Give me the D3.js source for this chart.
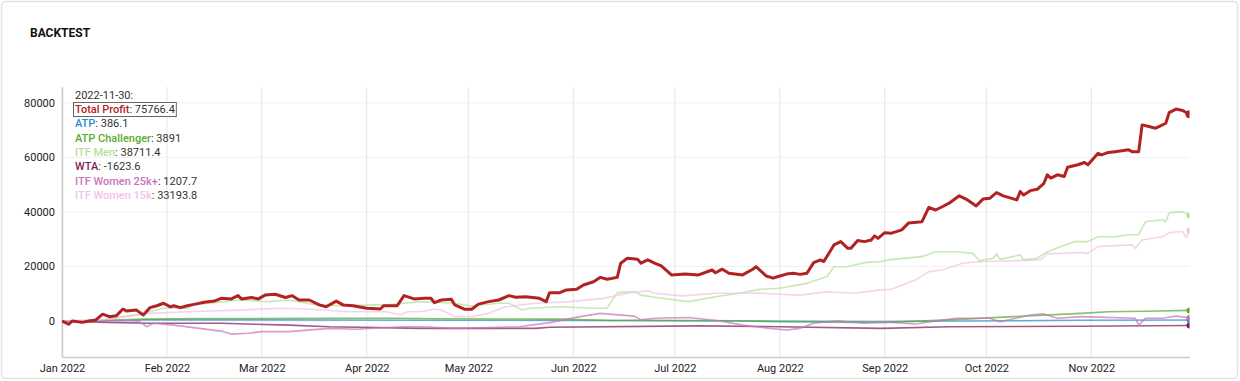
<!DOCTYPE html>
<html><head><meta charset="utf-8">
<script src="https://cdn.jsdelivr.net/npm/d3@7"></script>
<style>
html,body{margin:0;padding:0;background:#fff;}
svg{display:block;font-family:Roboto, "Noto Sans", sans-serif;}
</style></head><body>
<svg id="chart" width="1240" height="381"></svg>
<script>
// ---------- DATA (day offset from 2022-01-01, value) ----------
const chartTitle = "BACKTEST";
const legendDate = "2022-11-30:";
const seriesNames = ["Total Profit","ATP","ATP Challenger","ITF Men","WTA","ITF Women 25k+","ITF Women 15k"];
const legendValues = ["75766.4","386.1","3891","38711.4","-1623.6","1207.7","33193.8"];
const yTickValues = [0,20000,40000,60000,80000];

const totalProfit = [[0,0],[2,-1200],[3,0],[6,-500],[8,0],[10,400],[12,2500],[14,1600],[16,1900],[18,4400],[19,3700],[22,4000],[24,2200],[26,4900],[28,5600],[30,6500],[32,5200],[33,5600],[35,4900],[37,5600],[39,6100],[42,6900],[45,7300],[47,8300],[50,8100],[52,9300],[53,8100],[56,8600],[58,8100],[60,9500],[63,9800],[66,8600],[68,9300],[70,7700],[73,7700],[76,5900],[78,5200],[81,7300],[83,5900],[86,5600],[90,4700],[94,4400],[95,5600],[99,5600],[101,9300],[104,8100],[107,8300],[109,8300],[110,6700],[112,7700],[115,8000],[116,5900],[119,4300],[121,4300],[123,6200],[126,7100],[129,7700],[132,9300],[134,8700],[137,8900],[141,8300],[143,7100],[144,10400],[147,10400],[149,11400],[152,11600],[154,13200],[157,14400],[159,16000],[161,15300],[164,16000],[165,21200],[167,23000],[170,22600],[171,21200],[173,22400],[175,21200],[177,20200],[180,16900],[184,17200],[188,16900],[192,18700],[193,17700],[195,19000],[197,17500],[201,16900],[204,19000],[205,19900],[208,16500],[210,15700],[212,16500],[214,17200],[216,17500],[218,17100],[220,17500],[222,21400],[224,22400],[225,21800],[228,27900],[230,29100],[232,26700],[233,26700],[235,29500],[237,29100],[239,29700],[240,31200],[241,30300],[243,32400],[245,32200],[248,33400],[250,35900],[254,36400],[256,41700],[258,40700],[260,41900],[262,43200],[265,45900],[267,44700],[270,42200],[272,44700],[274,45000],[276,47100],[278,45900],[282,44400],[283,47500],[284,46200],[286,47800],[288,48300],[290,50500],[291,53600],[292,52400],[294,53600],[296,53000],[297,56400],[300,57300],[302,58100],[303,57300],[306,61500],[307,60900],[309,61800],[311,62100],[315,62800],[316,62100],[318,62100],[319,71900],[321,71300],[323,70700],[324,71300],[326,72500],[327,76400],[329,77700],[331,77200],[333,75766.4]];

const atp = [[0,0],[20,200],[24,400],[60,400],[110,300],[160,200],[200,0],[240,-200],[280,100],[300,300],[333,386.1]];

const atpChallenger = [[0,0],[12,200],[24,700],[40,900],[80,1000],[100,1000],[110,800],[147,700],[163,200],[170,300],[200,100],[212,-300],[242,-600],[262,400],[281,1600],[301,2800],[309,3400],[320,3600],[333,3891]];

const itfMen = [[0,0],[13,500],[18,1600],[23,2500],[30,4700],[37,4700],[39,6000],[53,7700],[61,7100],[67,7700],[75,5900],[82,5600],[92,5900],[96,5900],[101,6500],[106,7100],[116,6500],[121,5500],[129,6500],[132,6500],[136,4000],[138,4700],[147,5200],[157,4700],[161,4700],[164,10400],[169,10700],[171,9500],[175,8700],[185,7100],[193,8900],[200,10200],[206,11600],[212,12000],[220,13800],[226,16300],[228,19900],[232,19900],[237,21400],[242,21800],[244,22400],[254,23600],[258,25400],[264,25400],[269,24800],[271,22100],[275,23000],[276,24600],[277,22600],[283,24200],[284,22400],[288,23000],[291,25400],[295,27300],[299,29100],[303,29100],[306,30900],[311,30900],[315,31600],[318,31600],[320,36400],[325,37100],[326,36400],[327,39700],[331,40100],[333,38711.4]];

const wta = [[0,0],[13,-500],[26,-850],[47,-850],[67,-1500],[79,-2100],[106,-2700],[140,-2700],[144,-2300],[188,-1800],[212,-2100],[242,-2700],[262,-2100],[300,-1900],[333,-1623.6]];

const itfWomen25k = [[0,0],[20,300],[23,-300],[25,-2100],[27,-800],[33,-1500],[47,-3700],[50,-4800],[55,-4500],[59,-3900],[67,-3900],[79,-2700],[87,-3000],[96,-2400],[101,-2100],[106,-2100],[116,-2700],[135,-2100],[144,-600],[153,1600],[159,2800],[169,1800],[171,400],[175,1000],[185,1300],[194,100],[201,-1500],[209,-2700],[214,-3300],[218,-2700],[222,-850],[229,100],[237,-850],[242,-300],[252,-1100],[264,1000],[274,1000],[277,-300],[286,2200],[290,2600],[294,1000],[301,1600],[317,1000],[318,-1500],[320,1000],[325,1000],[329,1800],[333,1207.7]];

const itfWomen15k = [[0,0],[10,300],[18,1500],[26,2800],[37,3400],[52,4000],[65,4700],[72,4400],[85,3400],[96,3400],[100,2200],[102,3400],[106,3400],[110,4400],[112,4000],[116,1600],[121,1600],[126,2800],[131,5200],[140,6500],[150,7100],[160,8300],[167,10200],[173,11100],[175,10200],[183,9200],[193,10200],[201,10200],[206,10200],[212,9800],[218,9500],[226,10700],[234,10200],[242,11400],[245,11600],[252,15000],[256,18100],[260,18700],[266,21200],[272,21800],[281,22100],[289,22400],[291,24600],[301,25100],[303,24800],[306,27300],[316,27900],[317,26700],[319,29700],[325,30900],[327,32400],[331,32800],[332,30600],[333,33193.8]];

// ---------- STYLE ----------
const seriesData = [totalProfit, atp, atpChallenger, itfMen, wta, itfWomen25k, itfWomen15k];
const colors = ["#b22222","#2b8ad9","#5aab2e","#b3df9b","#7a1d5c","#c874b8","#efc3e6"];

const W = 1240, H = 381;
const plot = {left: 62, right: 1189.5, top: 87, bottom: 357};
const start = new Date(2022,0,1);
const toDate = d => d3.timeDay.offset(start, d);

const svg = d3.select("#chart");

// card border
svg.append("rect").attr("x",1.5).attr("y",1.5).attr("width",W-4).attr("height",H-4)
  .attr("rx",4).attr("fill","#fff").attr("stroke","#dfe3e3").attr("stroke-width",1.5);

svg.append("text").attr("x",30).attr("y",37).text(chartTitle)
  .attr("font-size",12).attr("font-weight","bold").attr("fill","#111");

const x = d3.scaleTime().domain([start, new Date(2022,10,30)]).range([plot.left, plot.right]);
const y = d3.scaleLinear().domain([-13200, 85800]).range([plot.bottom, plot.top]);

// grid
const months = d3.timeMonth.range(start, new Date(2022,11,1));
svg.append("g").selectAll("line").data(months).join("line")
  .attr("x1", d => x(d)).attr("x2", d => x(d))
  .attr("y1", plot.top).attr("y2", plot.bottom)
  .attr("stroke","#e4e4e4").attr("stroke-width",1);
svg.append("g").selectAll("line").data(yTickValues).join("line")
  .attr("x1", plot.left).attr("x2", plot.right)
  .attr("y1", d => y(d)).attr("y2", d => y(d))
  .attr("stroke","#f0f0f0").attr("stroke-width",1);

// axes
const yAxis = d3.axisLeft(y).tickValues(yTickValues).tickSize(0).tickPadding(7).tickFormat(d3.format("d"));
const gy = svg.append("g").attr("transform",`translate(${plot.left},0)`).call(yAxis);
gy.select(".domain").attr("stroke","#cccccc").attr("stroke-width",1.5);
gy.selectAll("text").attr("font-size",11).attr("fill","#222").attr("font-family","Roboto");

const xAxis = d3.axisBottom(x).tickValues(months).tickSize(0).tickPadding(7).tickFormat(d3.timeFormat("%b %Y"));
const gx = svg.append("g").attr("transform",`translate(0,${plot.bottom})`).call(xAxis);
gx.select(".domain").attr("stroke","#cccccc").attr("stroke-width",1.5);
gx.selectAll("text").attr("font-size",11).attr("fill","#222").attr("font-family","Roboto");

// clip
svg.append("clipPath").attr("id","clip").append("rect")
  .attr("x",plot.left).attr("y",plot.top-5).attr("width",plot.right-plot.left).attr("height",plot.bottom-plot.top+5);

const line = d3.line().x(d => x(toDate(d[0]))).y(d => y(d[1])).curve(d3.curveLinear);
const gLines = svg.append("g").attr("clip-path","url(#clip)");
const order = [1,2,3,4,5,6,0];
order.forEach(i => {
  gLines.append("path").datum(seriesData[i]).attr("d", line)
    .attr("fill","none").attr("stroke", colors[i])
    .attr("stroke-width", i === 0 ? 3 : 1.6)
    .attr("stroke-opacity", i === 0 ? 1 : 0.72)
    .attr("stroke-linejoin","round");
});
order.forEach(i => {
  const last = seriesData[i][seriesData[i].length-1];
  gLines.append("circle").attr("cx", x(toDate(last[0]))).attr("cy", y(last[1]))
    .attr("r", i === 0 ? 4 : 3).attr("fill", colors[i]);
});

// legend
const lg = svg.append("g").attr("font-size",11).attr("font-family","Roboto");
lg.append("text").attr("x",75).attr("y",98.5).attr("fill","#333").text(legendDate);
seriesNames.forEach((name,i) => {
  const t = lg.append("text").attr("x",75).attr("y",113 + i*14.3);
  t.append("tspan").attr("fill",colors[i]).attr("font-weight",500).text(name);
  t.append("tspan").attr("fill","#333").text(": " + legendValues[i]);
  if (i === 0) {
    const bb = t.node().getBBox();
    lg.insert("rect","text").attr("x",bb.x-1.5).attr("y",bb.y-0.5).attr("width",bb.width+3).attr("height",bb.height+1)
      .attr("fill","#fff").attr("stroke","#666").attr("stroke-width",1);
  }
});
</script>
</body></html>
